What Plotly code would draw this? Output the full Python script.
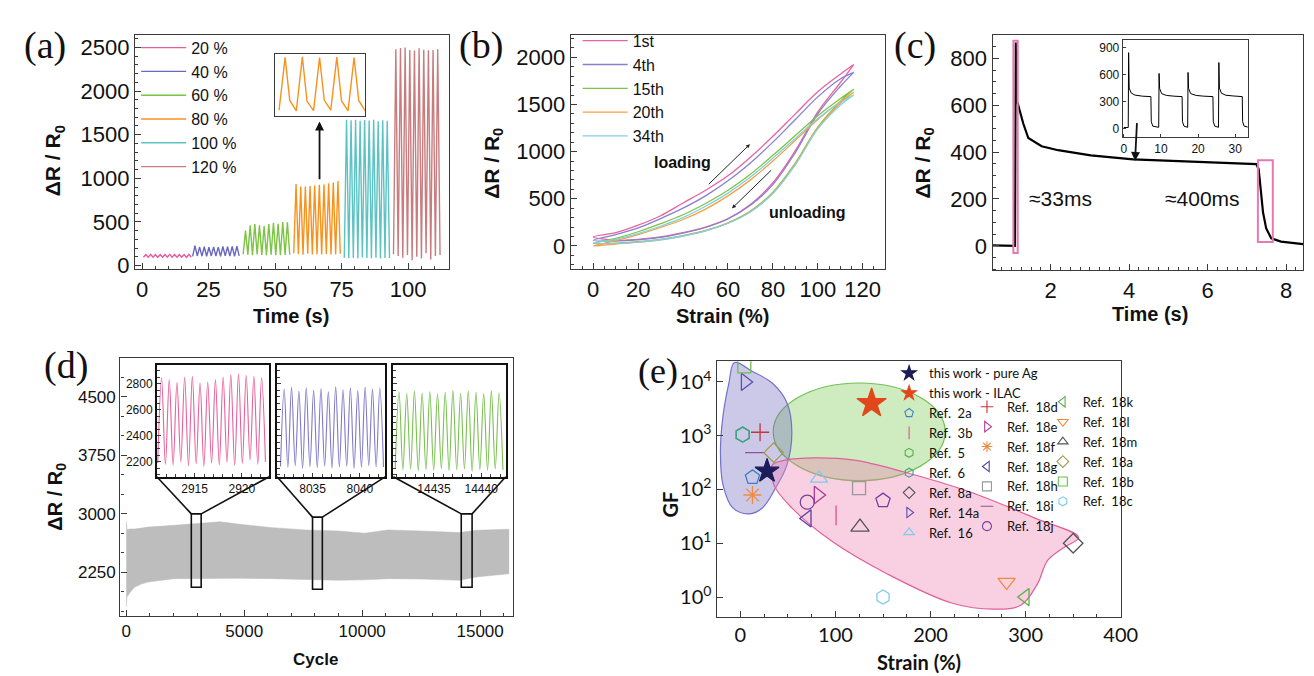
import plotly.graph_objects as go

W, H = 1314, 676

# ---------------- data: panel (a) ----------------
a_labels = ["20 %", "40 %", "60 %", "80 %", "100 %", "120 %"]
a_start = [0.5, 19.0, 38.0, 57.0, 76.0, 94.5]
a_period = [1.8, 1.75, 1.75, 1.75, 1.7, 1.75]
a_peaks = [
    [125, 128, 126, 127, 125, 128, 126, 127, 126, 128],
    [228, 212, 215, 210, 214, 212, 218, 215, 220, 222],
    [400, 462, 476, 462, 452, 476, 490, 478, 500, 495],
    [935, 905, 905, 912, 918, 925, 930, 942, 952, 968],
    [1670, 1665, 1672, 1660, 1668, 1662, 1670, 1655, 1665, 1660],
    [2480, 2495, 2500, 2470, 2465, 2490, 2475, 2468, 2470, 2478],
]
a_troughs = [
    [95, 96, 95, 94, 96, 95, 95, 96, 95, 94, 95],
    [105, 110, 108, 106, 110, 108, 105, 110, 108, 106, 110],
    [130, 125, 120, 128, 122, 118, 125, 120, 118, 122, 125],
    [140, 130, 125, 135, 128, 130, 126, 132, 128, 130, 135],
    [90, 85, 88, 80, 92, 86, 84, 90, 82, 88, 86],
    [130, 110, 90, 120, 60, 100, 80, 140, 70, 110, 120],
]
# inset of (a): five 80 % cycles
a_ins_t0 = 66.0
a_ins_period = 1.75
a_ins_peaks = [955, 962, 950, 958, 952]
a_ins_shoulder = [300, 290, 305, 295, 300]
a_ins_troughs = [150, 140, 146, 152, 142, 138]

# ---------------- data: panel (b) ----------------
b_labels = ["1st", "4th", "15th", "20th", "34th"]
b_strain = [0, 10, 20, 30, 40, 50, 60, 70, 80, 90, 100, 110, 116]
b_load = [
    [95, 140, 220, 320, 455, 590, 743, 940, 1162, 1400, 1634, 1820, 1923],
    [60, 120, 190, 290, 400, 530, 690, 880, 1100, 1340, 1580, 1770, 1840],
    [25, 80, 150, 235, 330, 450, 590, 760, 960, 1170, 1380, 1560, 1660],
    [0, 55, 120, 195, 280, 390, 530, 700, 900, 1120, 1340, 1530, 1630],
    [30, 70, 130, 210, 300, 420, 560, 730, 930, 1140, 1350, 1520, 1600],
]
b_unload = [
    [95, 60, 70, 95, 140, 200, 290, 440, 670, 1010, 1420, 1730, 1923],
    [60, 50, 65, 90, 135, 195, 285, 430, 650, 990, 1400, 1690, 1840],
    [25, 30, 45, 70, 110, 165, 245, 370, 570, 880, 1260, 1530, 1660],
    [0, 20, 40, 65, 105, 160, 240, 365, 560, 870, 1250, 1510, 1630],
    [30, 25, 40, 65, 105, 160, 240, 360, 555, 860, 1240, 1490, 1600],
]

# ---------------- data: panel (c) ----------------
c_t = [0.52, 1.09, 1.112, 1.125, 1.16, 1.30, 1.43, 1.77, 2.19, 3.02, 4.10, 5.10,
       6.35, 7.24, 7.30, 7.35, 7.41, 7.49, 7.62, 7.87, 8.43]
c_v = [2, 0, 867, 615, 608, 523, 460, 425, 408, 386, 369, 362,
       355, 349, 327, 243, 144, 75, 32, 18, 7]
c_ins_t = [0.0, 1.2, 1.3, 1.45, 2.0, 3.0, 5.0, 7.3, 7.4, 7.8,
           9.4, 9.5, 9.65, 10.2, 11.5, 13.5, 15.7, 15.8, 16.2,
           17.2, 17.3, 17.45, 18.0, 19.5, 21.5, 24.0, 24.1, 24.5,
           25.5, 25.6, 25.75, 26.3, 27.5, 29.5, 31.9, 32.0, 32.4, 33.4]
c_ins_v = [10, 10, 846, 450, 395, 372, 360, 355, 75, 25,
           12, 614, 445, 388, 368, 360, 355, 75, 25,
           12, 625, 445, 388, 368, 360, 355, 75, 25,
           12, 735, 450, 392, 370, 362, 355, 75, 25, 15]

# ---------------- data: panel (d) ----------------
d_cycle = [0, 5, 30, 150, 360, 640, 920, 2030, 3980, 4820, 6210, 7600, 8990,
           10110, 11080, 12470, 14140, 14840, 16230]
d_upper = [2907, 2900, 2800, 2806, 2806, 2815, 2830, 2853, 2899, 2866, 2823, 2794,
           2781, 2752, 2794, 2781, 2760, 2790, 2802]
d_lower = [1808, 1900, 1938, 1990, 2064, 2100, 2127, 2170, 2180, 2175, 2170, 2160,
           2149, 2155, 2170, 2165, 2149, 2191, 2233]
d_first_peak = [2911.5, 8032.0, 14431.3]
d_period = [0.815, 0.777, 0.815]
d_peaks = [
    [2846, 2833, 2813, 2853, 2858, 2808, 2815, 2833, 2853, 2871, 2878, 2866, 2858, 2846],
    [2760, 2775, 2745, 2770, 2750, 2765, 2740, 2780, 2755, 2770, 2748, 2775, 2760, 2768],
    [2740, 2725, 2745, 2730, 2740, 2722, 2735, 2750, 2728, 2745, 2738, 2725, 2748, 2732],
]
d_troughs = [
    [2190, 2180, 2175, 2200, 2170, 2185, 2165, 2190, 2178, 2195, 2172, 2188, 2215, 2180, 2200],
    [2165, 2158, 2170, 2150, 2162, 2155, 2168, 2152, 2160, 2165, 2150, 2158, 2170, 2162, 2160],
    [2150, 2138, 2145, 2130, 2142, 2135, 2148, 2132, 2140, 2145, 2128, 2140, 2135, 2145, 2140],
]

# ---------------- data: panel (e) ----------------
e_names = ["this work - pure Ag", "this work - ILAC", "Ref.\u00a0 2a", "Ref.\u00a0 3b",
           "Ref.\u00a0 5", "Ref.\u00a0 6", "Ref.\u00a0 8a", "Ref.\u00a0 14a", "Ref.\u00a0 16",
           "Ref.\u00a0 18d", "Ref.\u00a0 18e", "Ref.\u00a0 18f", "Ref.\u00a0 18g", "Ref.\u00a0 18h",
           "Ref.\u00a0 18i", "Ref.\u00a0 18j",
           "Ref.\u00a0 18k", "Ref.\u00a0 18l", "Ref.\u00a0 18m", "Ref.\u00a0 18a", "Ref.\u00a0 18b",
           "Ref.\u00a0 18c"]
e_strain = [[28], [138], [12.7], [100.6], [2.4], [2.4], [350], [5], [82.7],
            [20.7], [81.7], [12.7], [70.3], [124.8], [15.2], [70.3],
            [299.6], [280], [125.8], [35], [4.1], [150]]
e_gf = [[220], [4000], [168], [33], [1050], [1050], [10], [10000], [161],
        [1160], [79], [79], [29], [106], [484], [58],
        [1.0], [1.9], [20], [484], [19500], [1.0]]
e_extra_strain = [150]
e_extra_gf = [62]
# outlines of shaded regions (strain %, GF)
e_blue_x = [-6.2, 12.7, 33.4, 48.9, 54.1, 48.9, 36.9, 23.1, 9.3, -8.0, -18.3, -21.0, -18.3, -12.1, -6.2]
e_blue_y = [22960, 15700, 9550, 4120, 1160, 284, 106, 45.4, 35.2, 45.4, 122, 498, 2340, 9550, 22960]
e_pink_x = [33.4, 47.2, 78.3, 119.6, 171.3, 240.2, 309.2, 355.7, 340.2, 323.0, 312.6, 295.4,
            267.8, 223.0, 154.0, 95.5, 54.1, 35.2, 33.4]
e_pink_y = [284, 351, 386, 351, 214, 91.8, 29.7, 12.8, 8.38, 4.78, 1.78, 0.713,
            0.594, 0.766, 2.72, 11.1, 45.4, 122, 284]
e_green_ellipse = (34.5, 215.4, 146, 9550)

# ---------------- helpers ----------------
def xd(a, b):
    return [a / W, b / W]


def yd(top, bot):
    return [1 - bot / H, 1 - top / H]


AX = "#3a3a3a"
ARIAL = "Liberation Sans, Arial, sans-serif"
LATO = "Lato, Open Sans, sans-serif"


def axis(dom, rng, anchor, dtick=None, minor=None, size=22, family=ARIAL, show=True,
         tick0=None, ticks="inside", **kw):
    d = dict(domain=dom, range=rng, anchor=anchor, showline=True, mirror=True,
             linecolor=AX, linewidth=1.4, ticks=ticks, ticklen=6, tickwidth=1.3,
             tickcolor=AX, showgrid=False, zeroline=False, showticklabels=show,
             tickfont=dict(size=size, family=family, color="#111"), fixedrange=True,
             tickformat="d")
    if dtick is not None:
        d["dtick"] = dtick
    if tick0 is not None:
        d["tick0"] = tick0
    if minor is not None:
        d["minor"] = dict(dtick=minor, ticks="inside", ticklen=3, tickwidth=1,
                          tickcolor=AX, showgrid=False)
    d.update(kw)
    return d


fig = go.Figure()

# ---------------- panel (a) ----------------
a_colors = ["#ea5a9c", "#6a68c2", "#7cc444", "#f7921e", "#5cc2c4", "#c97c7e"]
for k in range(6):
    xs, ys = [], []
    P = a_period[k]
    for i, tr in enumerate(a_troughs[k]):
        xs.append(a_start[k] + i * P)
        ys.append(tr)
        if i < len(a_peaks[k]):
            xs.append(a_start[k] + (i + 0.5) * P)
            ys.append(a_peaks[k][i])
    fig.add_trace(go.Scatter(x=xs, y=ys, mode="lines", name=a_labels[k],
                             line=dict(color=a_colors[k], width=1.4),
                             xaxis="x", yaxis="y", legend="legend"))

xs, ys = [], []
for i in range(len(a_ins_troughs)):
    xs.append(a_ins_t0 + i * a_ins_period)
    ys.append(a_ins_troughs[i])
    if i < len(a_ins_peaks):
        xs += [a_ins_t0 + (i + 0.35) * a_ins_period, a_ins_t0 + (i + 0.62) * a_ins_period]
        ys += [a_ins_peaks[i], a_ins_shoulder[i]]
fig.add_trace(go.Scatter(x=xs, y=ys, mode="lines", showlegend=False,
                         line=dict(color="#f7921e", width=1.4), xaxis="x2", yaxis="y2"))

# ---------------- panel (b) ----------------
b_colors = ["#e8649e", "#8a7ed2", "#7cc444", "#f7a040", "#80d0e4"]
for k in range(5):
    fig.add_trace(go.Scatter(x=b_strain + b_strain[::-1], y=b_load[k] + b_unload[k][::-1],
                             mode="lines", name=b_labels[k], line=dict(color=b_colors[k], width=1.3),
                             line_shape="spline", xaxis="x3", yaxis="y3", legend="legend2"))

# ---------------- panel (c) ----------------
fig.add_trace(go.Scatter(x=c_t, y=c_v, mode="lines", showlegend=False,
                         line=dict(color="#000", width=2.2), xaxis="x4", yaxis="y4"))
fig.add_trace(go.Scatter(x=c_ins_t, y=c_ins_v, mode="lines", showlegend=False,
                         line=dict(color="#000", width=1), xaxis="x5", yaxis="y5"))

# ---------------- panel (d) ----------------
fig.add_trace(go.Scatter(x=d_cycle, y=d_lower, mode="lines", showlegend=False,
                         line=dict(color="#bdbdbd", width=0.5), xaxis="x6", yaxis="y6"))
fig.add_trace(go.Scatter(x=d_cycle, y=d_upper, mode="lines", showlegend=False, fill="tonexty",
                         fillcolor="#bdbdbd", line=dict(color="#bdbdbd", width=0.5),
                         xaxis="x6", yaxis="y6"))
d_colors = ["#e8609a", "#8078c8", "#78c050"]
for k in range(3):
    xs, ys = [], []
    P = d_period[k]
    for i, tr in enumerate(d_troughs[k]):
        xs.append(d_first_peak[k] + (i - 0.5) * P)
        ys.append(tr)
        if i < len(d_peaks[k]):
            xs.append(d_first_peak[k] + i * P)
            ys.append(d_peaks[k][i])
    fig.add_trace(go.Scatter(x=xs, y=ys, mode="lines", showlegend=False, line_shape="spline",
                             line=dict(color=d_colors[k], width=1.1),
                             xaxis="x%d" % (7 + k), yaxis="y%d" % (7 + k)))

# ---------------- panel (e) ----------------
fig.add_trace(go.Scatter(x=e_blue_x, y=e_blue_y, mode="lines", fill="toself", showlegend=False,
                         line_shape="spline", fillcolor="rgba(110,100,190,0.35)",
                         line=dict(color="#7272c8", width=1.2), xaxis="x10", yaxis="y10"))
fig.add_trace(go.Scatter(x=e_pink_x, y=e_pink_y, mode="lines", fill="toself", showlegend=False,
                         line_shape="spline", fillcolor="rgba(238,130,180,0.38)",
                         line=dict(color="#e0609a", width=1.2), xaxis="x10", yaxis="y10"))

e_symbols = ["star", "star", "pentagon-open", "line-ns-open", "hexagon-open", "hexagon-open",
             "diamond-open", "triangle-right-open", "triangle-up-open",
             "cross-thin-open", "triangle-right-open", "asterisk-open", "triangle-left-open",
             "square-open", "line-ew-open", "circle-open",
             "triangle-left-open", "triangle-down-open", "triangle-up-open", "diamond-open",
             "square-open", "hexagon-open"]
e_colors = ["#1c1c5a", "#e0481c", "#3d80c4", "#e0508a", "#5ab04a", "#3aa090",
            "#555555", "#5a50b0", "#7ecbea",
            "#c0383a", "#b03a9a", "#f08a40", "#5a40a0", "#999999", "#9050a0", "#7a40a0",
            "#5ab04a", "#f08a3a", "#555555", "#a09a50", "#6abf4b", "#7ecbea"]
e_sizes = [18, 22, 15, 14, 15, 15, 15, 15, 15, 13, 15, 15, 15, 13, 14, 14,
           15, 15, 16, 15, 13, 14]
for i, nm in enumerate(e_names):
    lg = "legend3" if i < 9 else ("legend4" if i < 16 else "legend5")
    # data marks
    fig.add_trace(go.Scatter(x=e_strain[i], y=e_gf[i], mode="markers", name=nm,
                             legendgroup=nm, showlegend=False,
                             marker=dict(symbol=e_symbols[i], size=e_sizes[i], color=e_colors[i],
                                         line=dict(width=1.3, color=e_colors[i])),
                             xaxis="x10", yaxis="y10"))
    # legend key (smaller symbol, as in the reference key)
    fig.add_trace(go.Scatter(x=[None], y=[None], mode="markers", name=nm, legendgroup=nm,
                             marker=dict(symbol=e_symbols[i], size=9 if i > 1 else 11,
                                         color=e_colors[i],
                                         line=dict(width=1.1, color=e_colors[i])),
                             xaxis="x10", yaxis="y10", legend=lg))
fig.add_trace(go.Scatter(x=e_extra_strain, y=e_extra_gf, mode="markers", showlegend=False,
                         marker=dict(symbol="pentagon-open", size=15, color="#7040a0",
                                     line=dict(width=1.3, color="#7040a0")),
                         xaxis="x10", yaxis="y10"))

# ---------------- axes ----------------
lay = dict(
    xaxis=axis(xd(127, 445), [-2.6, 115.2], "y", dtick=25, minor=5),
    yaxis=axis(yd(27, 265), [-45, 2647], "x", dtick=500, minor=100),
    xaxis2=axis(xd(269, 360), [65.6, 74.7], "y2", show=False, ticks=""),
    yaxis2=axis(yd(47, 109), [70, 1000], "x2", show=False, ticks=""),
    xaxis3=axis(xd(569, 888), [-10, 130], "y3", dtick=20, minor=5),
    yaxis3=axis(yd(27, 265), [-250, 2240], "x3", dtick=500, minor=100),
    xaxis4=axis(xd(997, 1312), [0.52, 8.43], "y4", dtick=2, minor=0.25),
    yaxis4=axis(yd(27, 266), [-105, 901], "x4", dtick=200, minor=50),
    xaxis5=axis(xd(1129, 1256), [-0.3, 33.4], "y5", dtick=10, size=12, ticklen=3, linewidth=1),
    yaxis5=axis(yd(32, 131), [-99, 992], "x5", dtick=300, size=12, ticklen=3, linewidth=1),
    xaxis6=axis(xd(112, 510), [-250, 16378], "y6", dtick=5000, minor=1000, size=17),
    yaxis6=axis(yd(355, 616), [1694, 4993], "x6", dtick=750, tick0=0, minor=250, size=17),
    xaxis10=axis(xd(717, 1127), [-25, 400], "y10", dtick=100, minor=25, size=20, family=LATO),
    yaxis10=axis(yd(358, 617), [-0.367, 4.385], "x10", type="log", size=20, family=LATO,
                 tickformat="", tickvals=[1, 10, 100, 1000, 10000],
                 ticktext=["10<sup>0</sup>", "10<sup>1</sup>", "10<sup>2</sup>",
                           "10<sup>3</sup>", "10<sup>4</sup>"],
                 minor=dict(ticks="inside", ticklen=3, tickcolor=AX, showgrid=False)),
)
d_in_dom = [(149, 263), (271, 381), (389, 503)]
d_in_rng = [[2911.0, 2922.9], [8031.25, 8042.7], [14430.7, 14442.6]]
for k in range(3):
    lay["xaxis%d" % (7 + k)] = axis(xd(*d_in_dom[k]), d_in_rng[k], "y%d" % (7 + k), dtick=5,
                                    minor=1, size=12, ticklen=4, linewidth=1.6, linecolor="#111")
    lay["yaxis%d" % (7 + k)] = axis(yd(362, 475), [2086, 2944], "x%d" % (7 + k), dtick=200,
                                    minor=50, size=12, ticklen=4, show=(k == 0),
                                    linewidth=1.6, linecolor="#111")

# ---------------- shapes ----------------
shapes = []
# (e) green ellipse
gx0, gx1, gy0, gy1 = e_green_ellipse
shapes.append(dict(type="circle", xref="x10", yref="y10", x0=gx0, x1=gx1, y0=gy0, y1=gy1,
                   fillcolor="rgba(125,205,90,0.38)", line=dict(color="#72c050", width=1.2),
                   layer="below"))
# (c) pink boxes
shapes.append(dict(type="rect", xref="x4", yref="y4", x0=1.05, x1=1.16, y0=-31, y1=875,
                   line=dict(color="#e47ab4", width=2)))
shapes.append(dict(type="rect", xref="x4", yref="y4", x0=7.28, x1=7.66, y0=16, y1=365,
                   line=dict(color="#e47ab4", width=2)))
# (d) zoom boxes and funnels
d_rect_x = [(2757, 3175), (7895, 8312), (14200, 14660)]
d_rect_y = [(2060, 3000), (2035, 2958), (2060, 3000)]


def d_data(pxx, pyy):
    cx = -250 + (pxx - 112) / (510 - 112) * (16378 + 250)
    cy = 1694 + (616 - pyy) / (616 - 355) * (4993 - 1694)
    return cx, cy


for k in range(3):
    x0, x1 = d_rect_x[k]
    y0, y1 = d_rect_y[k]
    shapes.append(dict(type="rect", xref="x6", yref="y6", x0=x0, x1=x1, y0=y0, y1=y1,
                       line=dict(color="#111", width=1.6)))
    lx, ly = d_data(d_in_dom[k][0], 475)
    rx, ry = d_data(d_in_dom[k][1], 475)
    shapes.append(dict(type="line", xref="x6", yref="y6", x0=lx, y0=ly, x1=x0, y1=y1,
                       line=dict(color="#111", width=1.6)))
    shapes.append(dict(type="line", xref="x6", yref="y6", x0=rx, y0=ry, x1=x1, y1=y1,
                       line=dict(color="#111", width=1.6)))

# ---------------- annotations ----------------
ann = []


def label(txt, x, y, size=20, family=ARIAL, angle=0, anchor="center"):
    ann.append(dict(text=txt, x=x / W, y=1 - y / H, xref="paper", yref="paper", showarrow=False,
                    font=dict(size=size, family=family, color="#111"), textangle=angle,
                    xanchor=anchor, yanchor="middle"))


SERIF = "Liberation Serif, Times New Roman, serif"
label("(a)", 36, 38, 38, SERIF)
label("(b)", 478, 38, 38, SERIF)
label("(c)", 918, 38, 38, SERIF)
label("(d)", 57, 362, 38, SERIF)
label("(e)", 658, 368, 36, SERIF)
label("<b>Time (s)</b>", 285, 312, 20)
label("<b>ΔR / R<sub>0</sub></b>", 45, 155, 21, angle=-90)
label("<b>Strain (%)</b>", 723, 312, 20)
label("<b>ΔR / R<sub>0</sub></b>", 490, 157, 21, angle=-90)
label("<b>Time (s)</b>", 1157, 310, 20)
label("<b>ΔR / R<sub>0</sub></b>", 927, 157, 21, angle=-90)
label("<b>Cycle</b>", 310, 660, 17)
label("<b>ΔR / R<sub>0</sub></b>", 47, 495, 20, angle=-90)
label("<b>Strain (%)</b>", 922, 663, 20, LATO)
label("<b>GF</b>", 670, 503, 20, LATO, angle=-90)

# in-plot text and arrows (data coordinates)
ann.append(dict(text="<b>loading</b>", x=39.7, y=880, xref="x3", yref="y3", showarrow=False,
                font=dict(size=16, family=ARIAL, color="#111")))
ann.append(dict(text="<b>unloading</b>", x=95.4, y=356, xref="x3", yref="y3", showarrow=False,
                font=dict(size=16, family=ARIAL, color="#111")))
ann.append(dict(text="", x=69.8, y=1079, ax=50.8, ay=639, xref="x3", yref="y3", axref="x3",
                ayref="y3", showarrow=True, arrowhead=2, arrowsize=0.8, arrowwidth=1,
                arrowcolor="#222"))
ann.append(dict(text="", x=61.8, y=398, ax=79.9, ay=817, xref="x3", yref="y3", axref="x3",
                ayref="y3", showarrow=True, arrowhead=2, arrowsize=0.8, arrowwidth=1,
                arrowcolor="#222"))
ann.append(dict(text="", x=66.7, y=1652, ax=66.7, ay=973, xref="x", yref="y", axref="x",
                ayref="y", showarrow=True, arrowhead=2, arrowsize=1, arrowwidth=1.8,
                arrowcolor="#111"))
ann.append(dict(text="", x=4.15, y=362, ax=4.2, ay=530, xref="x4", yref="y4", axref="x4",
                ayref="y4", showarrow=True, arrowhead=2, arrowsize=1, arrowwidth=1.8,
                arrowcolor="#111"))
ann.append(dict(text="≈33ms", x=1.39, y=203, xref="x4", yref="y4", showarrow=False,
                xanchor="left", font=dict(size=21, family=ARIAL, color="#111")))
ann.append(dict(text="≈400ms", x=4.86, y=203, xref="x4", yref="y4", showarrow=False,
                xanchor="left", font=dict(size=21, family=ARIAL, color="#111")))

# ---------------- legends ----------------
def leg(x, top, size, family, itemwidth=30):
    return dict(x=x / W, y=1 - top / H, xanchor="left", yanchor="top", bgcolor="rgba(0,0,0,0)",
                borderwidth=0, font=dict(size=size, family=family, color="#111"),
                itemwidth=itemwidth, tracegroupgap=0, traceorder="normal")


lay.update(
    legend=leg(128, 23, 16, ARIAL, 45),
    legend2=leg(576, 16, 16, ARIAL, 45),
    legend3=leg(892, 355, 13, LATO),
    legend4=leg(971, 389, 13, LATO),
    legend5=leg(1048, 384, 13, LATO),
)

fig.update_layout(
    width=W, height=H, margin=dict(l=0, r=0, t=0, b=0),
    paper_bgcolor="white", plot_bgcolor="white",
    shapes=shapes, annotations=ann, **lay,
)
fig.write_html("out.html")
